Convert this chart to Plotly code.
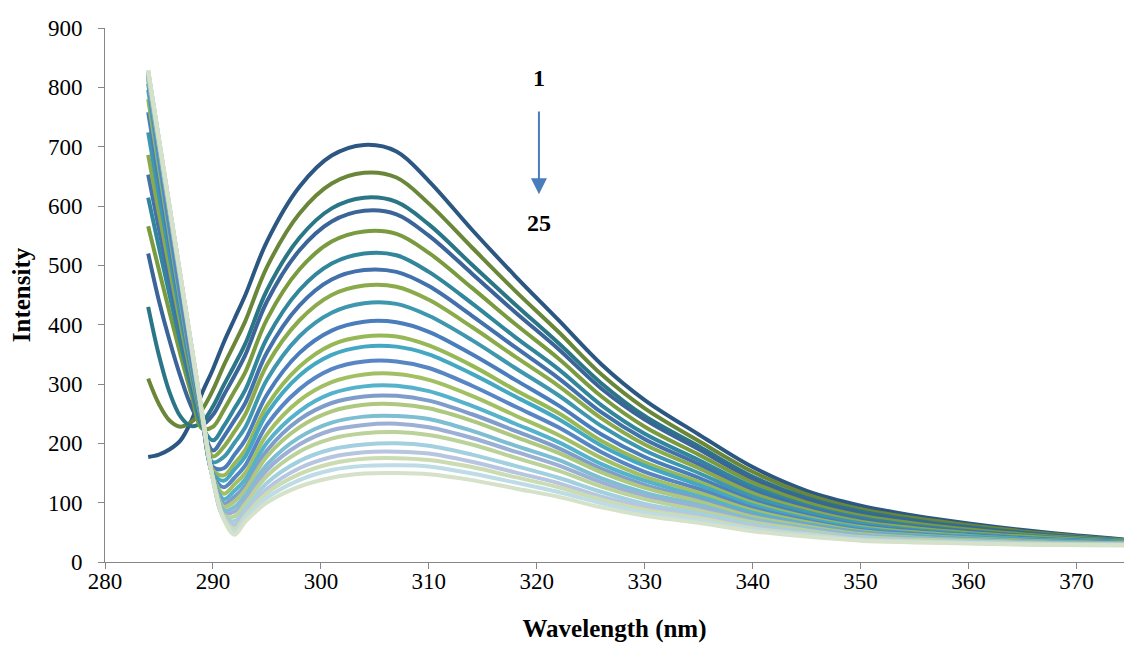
import plotly.graph_objects as go

# Emission wavelength grid (nm)
wavelength = [284, 285, 286, 287, 288, 289, 290, 291, 292, 293, 295, 298, 301, 304, 307,
              310, 314, 318, 322, 326, 330, 335, 340, 345, 350, 355, 360, 367, 375]

# Fluorescence intensity for successive titration steps 1..25
scan_01 = [177, 181, 190, 205, 238, 285, 325, 370, 410, 450, 540, 632, 685, 703, 692, 642, 560, 482, 408, 333, 273, 215, 160, 120, 95, 78, 65, 50, 37]
scan_02 = [309, 266, 238, 228, 236, 257, 290, 331, 368, 406, 497, 587, 638, 656, 648, 604, 530, 457, 388, 316, 259, 204, 152, 114, 89, 74, 62, 48, 36]
scan_03 = [430, 348, 285, 245, 229, 236, 262, 298, 332, 368, 458, 546, 596, 614, 607, 569, 501, 434, 369, 301, 246, 195, 144, 108, 85, 70, 59, 46, 36]
scan_04 = [520, 440, 372, 312, 262, 232, 248, 281, 314, 349, 439, 525, 574, 592, 586, 550, 486, 421, 359, 292, 240, 190, 140, 105, 82, 68, 57, 45, 36]
scan_05 = [566, 492, 419, 349, 283, 225, 228, 256, 288, 320, 409, 493, 540, 557, 553, 521, 462, 401, 343, 279, 228, 181, 134, 100, 78, 65, 55, 44, 36]
scan_06 = [614, 530, 448, 369, 294, 228, 205, 229, 259, 290, 377, 458, 503, 520, 517, 489, 436, 379, 325, 264, 216, 172, 127, 95, 74, 61, 52, 42, 35]
scan_07 = [653, 561, 472, 386, 304, 232, 188, 211, 239, 268, 353, 432, 476, 492, 489, 465, 415, 362, 310, 252, 207, 165, 121, 92, 71, 59, 51, 41, 34]
scan_08 = [686, 588, 493, 400, 313, 236, 178, 194, 220, 249, 332, 407, 450, 466, 464, 442, 396, 346, 297, 242, 198, 158, 116, 88, 68, 57, 49, 41, 34]
scan_09 = [724, 618, 515, 415, 321, 238, 168, 177, 201, 227, 307, 380, 420, 436, 435, 415, 374, 327, 281, 229, 188, 150, 110, 84, 65, 54, 47, 39, 34]
scan_10 = [758, 645, 535, 429, 328, 240, 160, 158, 181, 206, 282, 352, 390, 405, 404, 388, 350, 307, 264, 215, 177, 142, 104, 79, 61, 52, 45, 38, 33]
scan_11 = [780, 663, 549, 438, 333, 242, 155, 146, 166, 189, 263, 329, 366, 380, 380, 365, 331, 290, 251, 204, 168, 135, 100, 76, 59, 50, 44, 37, 33]
scan_12 = [796, 675, 558, 445, 337, 243, 150, 137, 156, 178, 250, 314, 349, 363, 363, 350, 317, 279, 241, 196, 162, 130, 96, 73, 57, 48, 43, 37, 32]
scan_13 = [806, 683, 564, 449, 340, 244, 146, 126, 142, 163, 231, 291, 325, 338, 338, 327, 297, 262, 227, 185, 152, 123, 91, 70, 54, 47, 41, 36, 32]
scan_14 = [812, 699, 585, 472, 358, 245, 144, 115, 131, 150, 215, 272, 303, 316, 317, 307, 280, 247, 214, 175, 144, 117, 87, 67, 52, 45, 40, 35, 31]
scan_15 = [816, 702, 588, 474, 360, 246, 143, 106, 120, 139, 201, 254, 284, 296, 297, 288, 263, 233, 202, 165, 137, 111, 83, 64, 50, 44, 39, 34, 31]
scan_16 = [819, 705, 590, 476, 361, 247, 142, 99, 110, 129, 188, 240, 268, 279, 280, 272, 249, 221, 192, 157, 130, 106, 79, 62, 49, 42, 38, 33, 31]
scan_17 = [821, 706, 591, 477, 362, 247, 141, 93, 102, 122, 178, 227, 254, 265, 266, 259, 238, 211, 184, 151, 125, 102, 76, 60, 47, 41, 37, 33, 31]
scan_18 = [823, 708, 593, 478, 363, 248, 141, 87, 93, 112, 164, 210, 235, 245, 246, 241, 221, 196, 172, 141, 117, 96, 72, 57, 45, 40, 36, 32, 30]
scan_19 = [824, 709, 594, 478, 363, 248, 140, 83, 85, 105, 155, 198, 222, 231, 233, 227, 209, 186, 163, 134, 111, 92, 69, 55, 44, 39, 35, 32, 30]
scan_20 = [825, 710, 595, 479, 364, 249, 140, 79, 77, 98, 145, 186, 208, 217, 219, 214, 198, 176, 154, 127, 106, 87, 67, 53, 42, 38, 35, 31, 29]
scan_21 = [826, 711, 595, 480, 364, 249, 140, 76, 69, 89, 133, 170, 190, 198, 200, 196, 181, 162, 142, 118, 98, 82, 63, 50, 41, 36, 34, 31, 29]
scan_22 = [827, 712, 596, 481, 365, 250, 140, 75, 62, 83, 123, 158, 177, 185, 186, 183, 169, 151, 133, 110, 93, 77, 60, 48, 39, 35, 33, 30, 29]
scan_23 = [828, 712, 597, 481, 366, 250, 140, 74, 56, 78, 116, 148, 166, 174, 175, 172, 160, 143, 126, 105, 88, 74, 57, 47, 38, 35, 32, 30, 29]
scan_24 = [828, 712, 597, 481, 366, 250, 140, 73, 51, 73, 108, 138, 155, 162, 163, 161, 149, 134, 118, 99, 83, 70, 55, 45, 37, 34, 32, 29, 28]
scan_25 = [829, 713, 597, 482, 366, 250, 140, 72, 46, 68, 100, 127, 142, 149, 150, 148, 138, 124, 110, 92, 78, 66, 52, 43, 36, 33, 31, 29, 28]

scans = [scan_01, scan_02, scan_03, scan_04, scan_05, scan_06, scan_07, scan_08, scan_09,
         scan_10, scan_11, scan_12, scan_13, scan_14, scan_15, scan_16, scan_17, scan_18,
         scan_19, scan_20, scan_21, scan_22, scan_23, scan_24, scan_25]

line_colors = ["#2C5782", "#6A8638", "#2B7686", "#3B6498", "#7A9A3F", "#31869B", "#4271AB",
               "#8BAA4C", "#3E97AE", "#4A7DBB", "#97B856", "#45A8C3", "#5886C4", "#A2C063",
               "#55B2CB", "#7F9DCB", "#AEC880", "#7DBED2", "#9CB0D6", "#BCD29B", "#A2D0DF",
               "#B7C5E0", "#CBDBB2", "#BDDCE6", "#D5E1C9"]

serif = "Liberation Serif, Times New Roman, serif"

fig = go.Figure()
for k, (vals, col) in enumerate(zip(scans, line_colors), start=1):
    fig.add_trace(go.Scatter(
        x=wavelength, y=vals, mode="lines", name=str(k),
        line=dict(color=col, width=4, shape="spline", smoothing=1.0),
        hoverinfo="x+y+name",
    ))

# Direction of the titration: scan 1 at the top, scan 25 at the bottom
fig.add_annotation(x=320.2, y=815, text="<b>1</b>", showarrow=False,
                   font=dict(family=serif, size=24, color="black"))
fig.add_annotation(x=320.2, y=572, text="<b>25</b>", showarrow=False,
                   font=dict(family=serif, size=24, color="black"))
fig.add_annotation(x=320.2, y=620, ax=320.2, ay=762, axref="x", ayref="y",
                   xref="x", yref="y", text="", showarrow=True,
                   arrowhead=2, arrowsize=1.6, arrowwidth=2, arrowcolor="#4A7EBB")

axis_common = dict(
    showline=True, linecolor="#868686", linewidth=1,
    ticks="outside", ticklen=6, tickcolor="#868686", tickwidth=1,
    showgrid=False, zeroline=False,
    tickfont=dict(family=serif, size=23, color="black"),
)

fig.update_xaxes(range=[280, 374.4], tickvals=list(range(280, 371, 10)),
                 ticklabelstandoff=-8,
                 title=dict(text="<b>Wavelength (nm)</b>", standoff=26,
                            font=dict(family=serif, size=25, color="black")),
                 **axis_common)
fig.update_yaxes(range=[0, 900], dtick=100, ticklabelstandoff=11,
                 title=dict(text="<b>Intensity</b>", standoff=10,
                            font=dict(family=serif, size=25, color="black")),
                 **axis_common)

fig.update_layout(
    width=1124, height=648,
    margin=dict(l=105, r=0, t=28, b=86),
    paper_bgcolor="white", plot_bgcolor="white",
    showlegend=False,
)

fig.write_html("out.html")
